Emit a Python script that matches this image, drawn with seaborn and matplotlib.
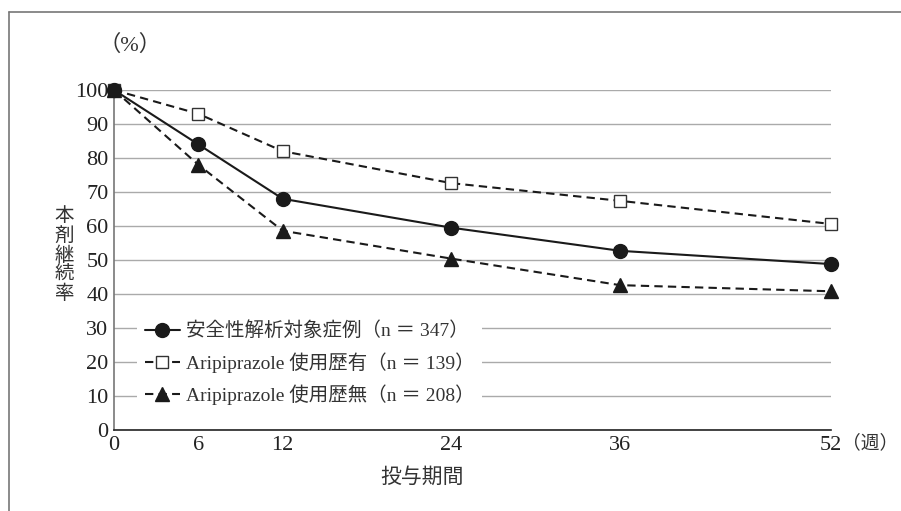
import numpy as np
import pandas as pd
import matplotlib.pyplot as plt
import seaborn as sns

weeks = [0, 6, 12, 24, 36, 52]
safety = [100, 84, 68, 59.5, 52.7, 48.8]
ari_yes = [100, 93, 82, 72.6, 67.4, 60.6]
ari_no = [100, 78, 58.6, 50.4, 42.6, 40.8]
labels = ["安全性解析対象症例（n ＝ 347）",
          "Aripiprazole 使用歴有（n ＝ 139）",
          "Aripiprazole 使用歴無（n ＝ 208）"]

sns.set_theme(style="white")
plt.rcParams['font.family'] = ['Liberation Serif', 'Noto Sans CJK JP']

fig = plt.figure(figsize=(9.01, 5.11), dpi=100)
ax = fig.add_axes([114 / 901, (511 - 430) / 511, (831 - 114) / 901, 340 / 511])

# last interval (36-52) is drawn a bit compressed in the original
fwd = lambda x: np.interp(x, [0, 36, 52], [0, 36, 51])
inv = lambda x: np.interp(x, [0, 36, 51], [0, 36, 52])
ax.set_xscale('function', functions=(fwd, inv))

df = pd.DataFrame({"week": weeks, "a": safety, "b": ari_yes, "c": ari_no})
# (column, linestyle, marker, facecolor, zorder)
styles = [("a", "-", "o", "#1a1a1a", 5),
          ("b", (0, (4, 2.5)), "s", "white", 3),
          ("c", (0, (4, 2.5)), "^", "#1a1a1a", 4)]
for (col, ls, mk, fc, z), lab in zip(styles, labels):
    sns.lineplot(data=df, x="week", y=col, ax=ax, color="#1a1a1a", linestyle=ls,
                 marker=mk, markersize=10 if mk != "s" else 9, markerfacecolor=fc,
                 markeredgecolor="#333333" if mk == "s" else "#1a1a1a",
                 markeredgewidth=1.0, linewidth=1.5, label=lab, clip_on=False, zorder=z)

ax.set_xlim(0, 52)
ax.set_ylim(0, 100)
ax.set_xticks(weeks)
ax.set_xticklabels([str(w) for w in weeks])
ax.set_yticks(range(0, 101, 10))
ax.grid(axis='y', color='#aaaaaa', linewidth=1.0)
ax.grid(axis='x', visible=False)
for s in ['top', 'right']:
    ax.spines[s].set_visible(False)
ax.spines['left'].set_color('#777777')
ax.spines['bottom'].set_color('#222222')
ax.spines['left'].set_linewidth(1.2)
ax.spines['bottom'].set_linewidth(1.2)
ax.tick_params(axis='x', direction='in', length=6, width=1, color='#222222',
               labelsize=16, pad=4, labelcolor='#222222')
ax.tick_params(axis='y', length=0, labelsize=16, pad=4, labelcolor='#222222')
ax.set_xlabel("")
ax.set_ylabel("")

leg = ax.legend(loc='upper left', bbox_to_anchor=(0.032, 0.342), frameon=True,
                facecolor='white', edgecolor='none', framealpha=1, fontsize=14,
                handlelength=1.8, handletextpad=0.3, labelspacing=0.6,
                borderpad=0.4, borderaxespad=0, labelcolor='#333333')
leg.get_frame().set_linewidth(0)

fig.text(130 / 901, 1 - 45 / 511, "（%）", ha='center', va='center', fontsize=16, color='#333333')
fig.text(64 / 901, 1 - 255 / 511, "本\n剤\n継\n続\n率", ha='center', va='center',
         fontsize=14, color='#333333', linespacing=1.1)
fig.text(422 / 901, 1 - 478 / 511, "投与期間", ha='center', va='center', fontsize=15, color='#333333')
fig.text(898 / 901, 1 - 443 / 511, "（週）", ha='right', va='center', fontsize=13.5, color='#333333')

# outer frame
fig.add_artist(plt.Line2D([9 / 901, 9 / 901], [0, 1 - 12 / 511], transform=fig.transFigure, color='#777777', linewidth=1.2))
fig.add_artist(plt.Line2D([9 / 901, 1], [1 - 12 / 511, 1 - 12 / 511], transform=fig.transFigure, color='#777777', linewidth=1.2))

fig.savefig("out.png", dpi=100)
